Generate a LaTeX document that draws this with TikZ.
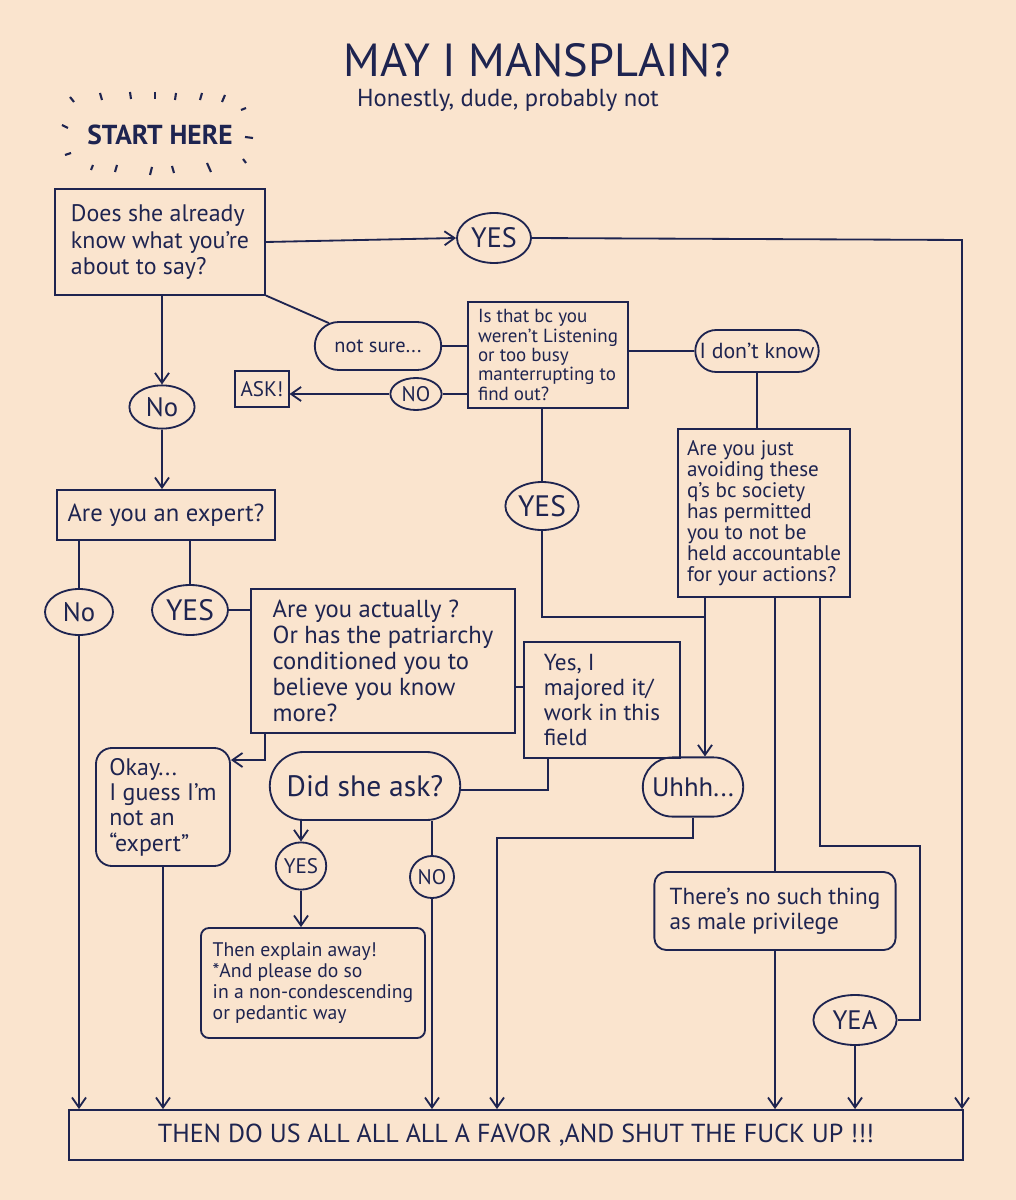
\documentclass[tikz,border=0pt]{standalone}
\usepackage{fontspec}
\setmainfont{PT Sans}
\usepackage{tikz}
\usetikzlibrary{arrows.meta,shapes.geometric,shapes.misc}
\definecolor{peach}{HTML}{FAE4CE}
\definecolor{ink}{HTML}{1E2450}
\newcommand{\fsz}[2]{\fontsize{#1}{#2}\selectfont}

\begin{document}
\begin{tikzpicture}[x=0.025cm, y=-0.025cm, color=ink, line width=1.3pt,
  >={Straight Barb[length=2.5mm,width=3.5mm]},
  qbox/.style={draw, rectangle, align=left, inner sep=3pt},
  oval/.style={draw, ellipse, inner sep=0.5pt},
  pill/.style={draw, rounded rectangle, inner sep=2pt},
  soft/.style={draw, rectangle, rounded corners=#1, align=left}, soft/.default=4mm]
  \fill[peach] (0,0) rectangle (1016,1200);
  \useasboundingbox (0,0) rectangle (1016,1200);

  \node[font=\fsz{33}{36}] (title) at (537,60) {MAY I MANSPLAIN?};
  \node[font=\fsz{17.5}{20}] (sub) at (508,100) {Honestly, dude, probably not};
  \node[font=\bfseries\fsz{19.5}{22}] (start) at (160,135) {START HERE};
  \foreach \xa/\ya/\xb/\yb in {70/97/74/102, 100/93/102/100, 130/92/131/99, 155/92/155/99,
      176/93/175/100, 202/93/200/100, 225/95/222/102, 241/110/246/108, 62/125/68/128,
      245/137/253/138, 65/155/71/153, 91/170/93/165, 115/172/117/165, 150/175/152/167,
      174/173/172/166, 211/172/207/163, 246/163/243/159}
    \draw[line width=1.5pt] (\xa,\ya) -- (\xb,\yb);

  \node[qbox, minimum width=5.25cm, minimum height=2.63cm, font=\fsz{17}{19}] (know) at (160,242) {Does she already\\know what you're\\about to say?};
  \node[oval, minimum width=1.85cm, minimum height=1.25cm, font=\fsz{20}{22}] (yes1) at (494,238) {YES};
  \node[pill, minimum width=3.3cm, minimum height=1.2cm, font=\fsz{14.5}{16}] (notsure) at (378,346) {not sure...};
  \node[qbox, minimum width=3.98cm, minimum height=2.63cm, font=\fsz{13.5}{13.8}] (listen) at (548,355) {Is that bc you\\weren't Listening\\or too busy\\manterrupting to\\find out?};
  \node[pill, minimum width=3.0cm, minimum height=1.05cm, font=\fsz{15.5}{17}] (idk) at (757,351) {I don't know};
  \node[oval, minimum width=1.28cm, minimum height=0.8cm, font=\fsz{15}{16}] (no2) at (416,394) {NO};
  \node[qbox, minimum width=1.33cm, minimum height=0.9cm, inner sep=2pt, font=\fsz{15}{16}] (ask) at (262,389) {ASK!};
  \node[qbox, minimum width=4.3cm, minimum height=4.18cm, font=\fsz{15}{15}] (avoid) at (764,513) {Are you just\\avoiding these\\q's bc society\\has permitted\\you to not be\\held accountable\\for your actions?};
  \node[oval, minimum width=1.83cm, minimum height=1.2cm, font=\fsz{21}{22}] (yes4) at (542,506) {YES};
  \node[oval, minimum width=1.63cm, minimum height=1.08cm, font=\fsz{19}{20}] (no1) at (162,407) {No};
  \node[qbox, minimum width=5.45cm, minimum height=1.25cm, font=\fsz{17.5}{19}] (expert) at (166,515) {Are you an expert?};
  \node[oval, minimum width=1.7cm, minimum height=1.15cm, font=\fsz{19}{20}] (noexp) at (79,612) {No};
  \node[oval, minimum width=1.9cm, minimum height=1.25cm, font=\fsz{21}{22}] (yesexp) at (190,610) {YES};
  \node[qbox, minimum width=6.6cm, minimum height=3.58cm, font=\fsz{17.5}{18.5}] (actually) at (383,661) {Are you actually ?\\Or has the patriarchy\\conditioned you to\\believe you know\\more?};
  \node[qbox, minimum width=3.9cm, minimum height=2.9cm, font=\fsz{16.5}{18}] (major) at (602,700) {Yes, I\\majored it/\\work in this\\field};
  \node[soft=4mm, minimum width=3.35cm, minimum height=2.95cm, font=\fsz{17}{18}] (okay) at (163,807) {Okay...\\I guess I'm\\not an\\``expert''};
  \node[pill, minimum width=4.9cm, minimum height=1.7cm, font=\fsz{21}{22}] (didask) at (365,786) {Did she ask?};
  \node[pill, minimum width=2.65cm, minimum height=1.48cm, font=\fsz{19}{20}] (uhhh) at (693,787) {Uhhh...};
  \node[oval, minimum width=1.25cm, minimum height=1.18cm, font=\fsz{15}{16}] (yes3) at (301,866) {YES};
  \node[oval, minimum width=1.1cm, minimum height=1.05cm, font=\fsz{15}{16}] (no3) at (432,877) {NO};
  \node[soft=2mm, minimum width=5.6cm, minimum height=2.75cm, font=\fsz{14}{15}] (explain) at (313,983) {Then explain away!\\*And please do so\\in a non-condescending\\or pedantic way};
  \node[soft=3mm, minimum width=6.03cm, minimum height=1.95cm, font=\fsz{16.5}{18}] (nopriv) at (775,911) {There's no such thing\\as male privilege};
  \node[oval, minimum width=2.08cm, minimum height=1.25cm, font=\fsz{19}{20}] (yea) at (855,1020) {YEA};
  \node[qbox, minimum width=22.33cm, minimum height=1.25cm, font=\fsz{18.5}{20}] (final) at (516,1135) {THEN DO US ALL ALL ALL A FAVOR ,AND SHUT THE FUCK UP !!!};

  \coordinate (edge) at (962,240);
  \coordinate (ubend) at (705,617);
  \coordinate (uleft) at (497,838);
  \coordinate (rbend) at (820,846);
  \coordinate (rside) at (920,846);
  \coordinate (obend) at (265,760);
  \coordinate (mbend) at (548,790);

  \draw[->] (know.east) -- (yes1.west);
  \draw[->] (yes1.east) -- (edge) -- (edge |- final.north);
  \draw (know.south east) -- (notsure.155);
  \draw (notsure.east) -- (notsure.east -| listen.west);
  \draw (no2.east) -- (no2.east -| listen.west);
  \draw[->] (no2.west) -- (no2.west -| ask.east);
  \draw (idk.west) -- (idk.west -| listen.east);
  \draw (idk.south) -- (idk.south |- avoid.north);
  \draw (yes4.north |- listen.south) -- (yes4.north);
  \draw (yes4.south) |- (ubend);
  \draw[->] (ubend |- avoid.south) -- (ubend |- uhhh.north);
  \draw[->] (uhhh.south) |- (uleft) -- (uleft |- final.north);
  \draw (nopriv.north |- avoid.south) -- (nopriv.north);
  \draw[->] (nopriv.south) -- (nopriv.south |- final.north);
  \draw (rbend |- avoid.south) -- (rbend) -- (rside) |- (yea.east);
  \draw[->] (yea.south) -- (yea.south |- final.north);
  \draw[->] (no1.north |- know.south) -- (no1.north);
  \draw[->] (no1.south) -- (no1.south |- expert.north);
  \draw (noexp.north |- expert.south) -- (noexp.north);
  \draw[->] (noexp.south) -- (noexp.south |- final.north);
  \draw (yesexp.north |- expert.south) -- (yesexp.north);
  \draw (yesexp.east) -- (yesexp.east -| actually.west);
  \draw[->] (obend |- actually.south) -- (obend) -- (obend -| okay.east);
  \draw[->] (okay.south) -- (okay.south |- final.north);
  \draw (actually.east |- 0,687) -- (major.west |- 0,687);
  \draw (mbend |- major.south) -- (mbend) -- (mbend -| didask.east);
  \draw[->] (yes3.north |- didask.south) -- (yes3.north);
  \draw[->] (yes3.south) -- (yes3.south |- explain.north);
  \draw (no3.north |- didask.south) -- (no3.north);
  \draw[->] (no3.south) -- (no3.south |- final.north);
\end{tikzpicture}
\end{document}
